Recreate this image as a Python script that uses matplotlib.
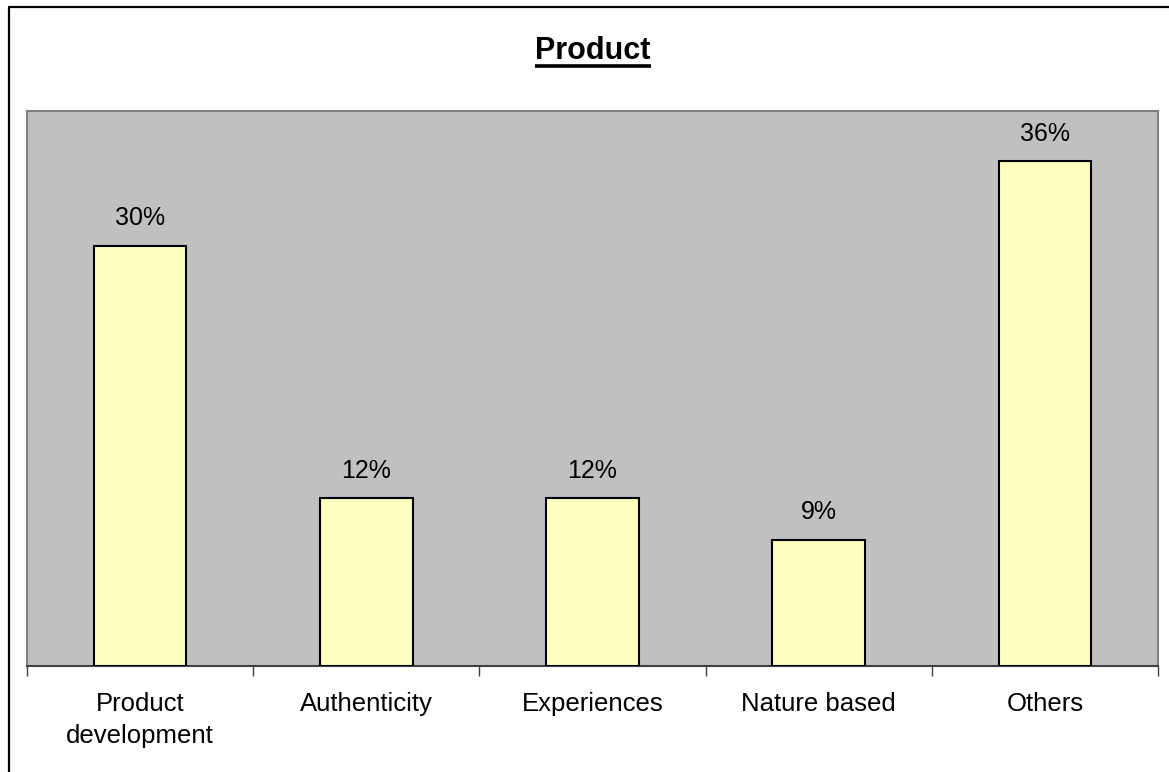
import matplotlib
matplotlib.use("Agg")
import matplotlib.pyplot as plt
from matplotlib.lines import Line2D

# ------------------------------------------
# Daten
# ------------------------------------------
kategorien = ["Product\ndevelopment", "Authenticity", "Experiences", "Nature based", "Others"]
anteile = [30.3, 12.1, 12.1, 9.1, 36.4]
beschriftung = ["30%", "12%", "12%", "9%", "36%"]
titel = "Product"

plt.rcParams["font.family"] = ["Liberation Sans", "DejaVu Sans"]

W, H = 1169, 772
fig = plt.figure(figsize=(W / 100, H / 100), dpi=100)
fig.patch.set_facecolor("white")

# Plotbereich in Pixeln
links, oben, rechts, unten = 27, 111, 1158, 666
ax = fig.add_axes([links / W, 1 - unten / H, (rechts - links) / W, (unten - oben) / H])
ax.set_facecolor("#C0C0C0")

x = list(range(len(kategorien)))
ax.bar(x, anteile, width=0.41, color="#FFFFC0", edgecolor="black", linewidth=1.5, zorder=3)

for xi, wert, txt in zip(x, anteile, beschriftung):
    ax.annotate(txt, (xi, wert), xytext=(0, 11), textcoords="offset points",
                ha="center", va="bottom", fontsize=18)

ax.set_xlim(-0.5, len(kategorien) - 0.5)
ax.set_ylim(0, 40)
ax.set_yticks([])

# Striche zwischen den Kategorien, Beschriftung in der Mitte
ax.set_xticks([i - 0.5 for i in range(len(kategorien) + 1)])
ax.set_xticklabels([])
ax.set_xticks(x, minor=True)
ax.set_xticklabels(kategorien, minor=True, fontsize=18.5, linespacing=1.4)
ax.tick_params(axis="x", which="major", length=7, width=1, color="#404040", direction="out")
ax.tick_params(axis="x", which="minor", length=0, pad=19)

for seite in ["left", "top", "right"]:
    ax.spines[seite].set_color("#808080")
    ax.spines[seite].set_linewidth(1.5)
ax.spines["bottom"].set_color("#404040")
ax.spines["bottom"].set_linewidth(1.5)

# Titel, unterstrichen
t = fig.text(593 / W, 1 - 59 / H, titel, ha="center", va="baseline",
             fontsize=22, fontweight="bold")
fig.canvas.draw()
bb = t.get_window_extent()
y_linie = 1 - 66 / H
fig.add_artist(Line2D([bb.x0 / W, bb.x1 / W], [y_linie, y_linie],
                      transform=fig.transFigure, color="black", linewidth=2.6,
                      solid_capstyle="butt"))

# Rahmen (links und oben sichtbar)
fig.add_artist(Line2D([8.5 / W, 8.5 / W, 1.0], [0.0, 1 - 7 / H, 1 - 7 / H],
                      transform=fig.transFigure, color="black", linewidth=1.6))

fig.savefig("out.png", dpi=100)
